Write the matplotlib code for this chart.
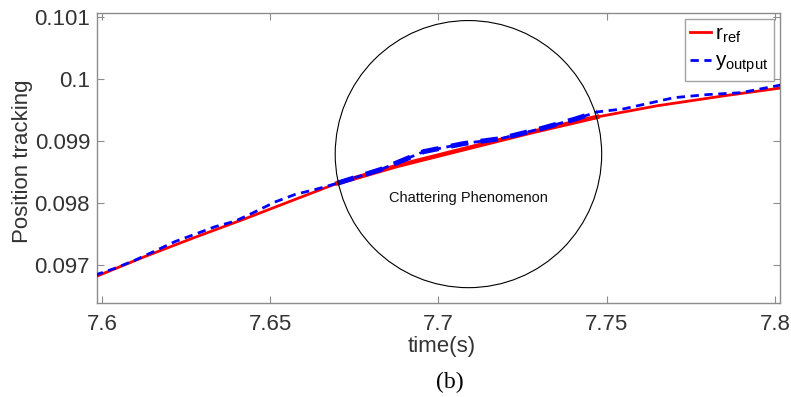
import matplotlib
matplotlib.use("Agg")
import matplotlib.pyplot as plt
from matplotlib.patches import Ellipse
import numpy as np

# reference trajectory r_ref
t_ref = [7.5979, 7.6128, 7.6277, 7.6426, 7.6574, 7.6699, 7.6877, 7.7075, 7.7274, 7.7472,
         7.7651, 7.7849, 7.8023]
r_ref = [0.09681, 0.09714, 0.09745, 0.09775, 0.09806, 0.09832, 0.09860, 0.09887, 0.09914, 0.09939,
         0.09957, 0.09973, 0.09986]

# measured output y_output
t_out = [7.5979, 7.6039, 7.6098, 7.6158, 7.6217, 7.6277, 7.6336, 7.6396, 7.6455, 7.6515, 7.6574,
         7.6634, 7.6699, 7.6827, 7.6956, 7.7075, 7.7185, 7.7304, 7.7403, 7.7472, 7.7551, 7.7700,
         7.7800, 7.7899, 7.8023]
y_out = [0.09684, 0.09695, 0.09708, 0.09723, 0.09738, 0.09750, 0.09762, 0.09771, 0.09786, 0.09802, 0.09814,
         0.09822, 0.09832, 0.09854, 0.09883, 0.09896, 0.09904, 0.09920, 0.09935, 0.09947, 0.09952, 0.09970,
         0.09975, 0.09978, 0.09991]

# chattering zone (start / end time) and annotation
chatter_t0, chatter_t1 = 7.6699, 7.7472
circle_center = (7.7089, 0.09879)
circle_size = (0.0792, 0.004306)
note = "Chattering Phenomenon"

x_ticks = [7.6, 7.65, 7.7, 7.75, 7.8]
x_labels = ["7.6", "7.65", "7.7", "7.75", "7.8"]
y_ticks = [0.097, 0.098, 0.099, 0.1, 0.101]
y_labels = ["0.097", "0.098", "0.099", "0.1", "0.101"]

plt.rcParams["font.family"] = ["Liberation Sans", "DejaVu Sans"]
plt.rcParams["mathtext.fontset"] = "custom"
plt.rcParams["mathtext.rm"] = "Liberation Sans"
plt.rcParams["mathtext.it"] = "Liberation Sans"

fig = plt.figure(figsize=(7.91, 3.97), dpi=100)
ax = fig.add_axes([0.1226, 0.2368, 0.8635, 0.7305])

t_ref_a = np.array(t_ref)
r_ref_a = np.array(r_ref)
t_out_a = np.array(t_out)
y_out_a = np.array(y_out)

ax.plot(t_ref, r_ref, color="#ff0000", lw=2.0, label=r"$\mathregular{r_{ref}}$", zorder=3,
        solid_joinstyle="round")
ax.plot(t_out, y_out, color="#0000ff", lw=2.0, ls=(0, (3, 2)), label=r"$\mathregular{y_{output}}$", zorder=4)

# thicker traces inside the chattering zone
m_r = (t_ref_a >= chatter_t0) & (t_ref_a <= chatter_t1)
m_y = (t_out_a >= chatter_t0) & (t_out_a <= chatter_t1)
ax.plot(t_ref_a[m_r], r_ref_a[m_r], color="#ff0000", lw=3.2, zorder=3, solid_joinstyle="round")
ax.plot(t_out_a[m_y], y_out_a[m_y], color="#0000ff", lw=3.6, ls=(0, (3.5, 2.5)), zorder=4)

ax.add_patch(Ellipse(circle_center, circle_size[0], circle_size[1], fill=False, ec="black", lw=0.8, zorder=5))
ax.text(circle_center[0], 0.09808, note, ha="center", va="center", fontsize=10.5, color="#111111")

ax.set_xlim(7.5985, 7.8015)
ax.set_ylim(0.09639, 0.101065)
ax.set_xticks(x_ticks)
ax.set_xticklabels(x_labels)
ax.set_yticks(y_ticks)
ax.set_yticklabels(y_labels)
ax.tick_params(direction="in", top=True, right=True, length=5, width=0.8, color="#8c8c8c",
               labelsize=16, labelcolor="#333333")
ax.tick_params(axis="x", pad=8)
ax.tick_params(axis="y", pad=5)
for sp in ax.spines.values():
    sp.set_color("#8c8c8c")
    sp.set_linewidth(1.0)

ax.set_xlabel("time(s)", fontsize=16, color="#333333")
ax.xaxis.set_label_coords(0.504, -0.115)
ax.set_ylabel("Position tracking", fontsize=16, color="#333333")
ax.yaxis.set_label_coords(-0.094, 0.49)

leg = ax.legend(loc="upper right", fontsize=15, handlelength=1.0, handletextpad=0.2,
                borderpad=0.25, labelspacing=0.35, borderaxespad=0.3, fancybox=False)
leg.get_frame().set_edgecolor("#8c8c8c")
leg.get_frame().set_linewidth(1.0)

fig.text(450 / 791, 1 - 382 / 397, "(b)", ha="center", va="center", fontsize=17,
         family=["Liberation Serif", "DejaVu Serif"])

fig.savefig("out.png", dpi=100)
